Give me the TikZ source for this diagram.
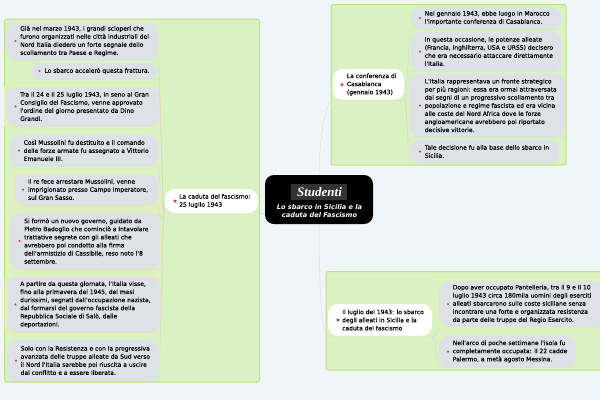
\documentclass[tikz,border=0pt]{standalone}
\usepackage{fontspec}
\setmainfont{DejaVu Sans}
\newfontfamily\labfont[FakeBold=0.25]{DejaVu Sans}
\newfontfamily\logofont{Liberation Serif}
\usetikzlibrary{shapes.geometric}
\definecolor{bgc}{HTML}{F0F5F9}
\definecolor{greenf}{HTML}{DAF2C2}
\definecolor{greend}{HTML}{B9E27E}
\definecolor{yellowd}{HTML}{F0EFA8}
\definecolor{grayf}{HTML}{DEE2E8}
\definecolor{linkc}{HTML}{CFD8DC}
\definecolor{redb}{HTML}{D02850}
\definecolor{logoc}{HTML}{333333}
\tikzset{
  panel/.style={draw=greend,fill=greenf,line width=1pt,rounded corners=2.5pt,inner sep=0pt},
  hiframe/.style={draw=yellowd,fill=none,line width=1pt,rounded corners=2pt,inner sep=0pt},
  graybox/.style={fill=grayf,rounded corners=10pt,inner sep=0pt},
  whitebox/.style={fill=white,rounded corners=10pt,inner sep=0pt},
  rootbox/.style={fill=black,rounded corners=9pt,inner sep=0pt},
  label/.style={anchor=west,align=left,inner sep=0pt,text=black,font=\labfont\fontsize{6}{8.1}\selectfont},
  dot/.style={star,star points=5,star point ratio=2.2,fill=redb,inner sep=0pt,minimum size=2.6pt},
  bigdot/.style={dot,minimum size=4pt},
  link/.style={draw=linkc,line width=.5pt,opacity=.75},
}
% name, x1, y1, x2, y2, style
\newcommand{\boxnode}[6]{%
  \pgfmathsetmacro{\bw}{#4-#2}\pgfmathsetmacro{\bh}{#5-#3}%
  \node[#6,minimum width=\bw pt,minimum height=\bh pt] (#1) at ({(#2+#4)/2},{(#3+#5)/2}) {};}
% name, x1,y1,x2,y2, bullet x, text x, text
\newcommand{\gitem}[8]{%
  \boxnode{#1}{#2}{#3}{#4}{#5}{graybox}
  \node[dot] (#1b) at (#6,{(#3+#5)/2}) {};
  \node[label] (#1t) at (#7,{(#3+#5)/2}) {#8};}
\newcommand{\witem}[8]{%
  \boxnode{#1}{#2}{#3}{#4}{#5}{whitebox}
  \node[bigdot] (#1b) at (#6,{(#3+#5)/2}) {};
  \node[label] (#1t) at (#7,{(#3+#5)/2}) {#8};}
\begin{document}
\begin{tikzpicture}[x=1pt,y=-1pt]
\useasboundingbox (0,0) rectangle (600,400);
\fill[bgc] (0,0) rectangle (600,400);

% panels
\boxnode{pl}{4.5}{19}{259.5}{382}{panel}
\boxnode{pt}{331}{4.5}{566}{165}{panel}
\boxnode{pb}{326}{271.5}{606}{370}{panel}

% highlight frames
\boxnode{f3}{4.5}{85}{161}{127}{hiframe}
\boxnode{f5}{12}{172}{161}{206}{hiframe}
\boxnode{f6}{8}{211}{161}{270}{hiframe}
\boxnode{f7}{5}{276}{161}{333}{hiframe}
\boxnode{f9}{437}{279}{606}{328}{hiframe}

% left branch
\gitem{a}{6}{22}{158}{60}{15.5}{20}{Già nel marzo 1943, i grandi scioperi che\\furono organizzati nelle città industriali del\\Nord Italia diedero un forte segnale dello\\scollamento tra Paese e Regime.}
\gitem{b}{31}{63}{158}{79}{39.5}{44.3}{Lo sbarco accelerò questa frattura.}
\gitem{c}{6}{87}{160}{126}{15.5}{20}{Tra il 24 e il 25 luglio 1943, in seno al Gran\\Consiglio del Fascismo, venne approvato\\l'ordine del giorno presentato da Dino\\Grandi.}
\gitem{d}{10}{135}{158}{166}{19}{23.5}{Così Mussolini fu destituito e il comando\\delle forze armate fu assegnato a Vittorio\\Emanuele III.}
\gitem{e}{14}{174}{158}{205}{23}{27.8}{Il re fece arrestare Mussolini, venne\\imprigionato presso Campo Imperatore,\\sul Gran Sasso.}
\gitem{f}{10}{213}{160}{269}{19.5}{24}{Si formò un nuovo governo, guidato da\\Pietro Badoglio che cominciò a intavolare\\trattative segrete con gli alleati che\\avrebbero poi condotto alla firma\\dell'armistizio di Cassibile, reso noto l'8\\settembre.}
\gitem{g}{7}{277}{160}{332}{15.5}{20}{A partire da questa giornata, l'Italia visse,\\fino alla primavera del 1945, dei mesi\\durissimi, segnati dall'occupazione nazista,\\dal formarsi del governo fascista della\\Repubblica Sociale di Salò, dalle\\deportazioni.}
\gitem{h}{7}{340}{158}{381}{16}{20.5}{Solo con la Resistenza e con la progressiva\\avanzata delle truppe alleate da Sud verso\\il Nord l'Italia sarebbe poi riuscita a uscire\\dal conflitto e a essere liberata.}
\witem{wl}{165}{189}{258}{213}{175}{179}{La caduta del fascismo:\\25 luglio 1943}

% upper right branch
\witem{wt}{333}{69}{404}{100}{342}{346.7}{La conferenza di\\Casablanca\\(gennaio 1943)}
\gitem{i}{411}{7}{561}{29}{420}{424.6}{Nel gennaio 1943, ebbe luogo in Marocco\\l'importante conferenza di Casablanca.}
\gitem{j}{411}{32}{562}{71}{420}{424.6}{In questa occasione, le potenze alleate\\(Francia, Inghilterra, USA e URSS) decisero\\che era necessario attaccare direttamente\\l'Italia.}
\gitem{k}{410}{74}{565}{137}{420}{424.6}{L'Italia rappresentava un fronte strategico\\per più ragioni: essa era ormai attraversata\\dai segni di un progressivo scollamento tra\\popolazione e regime fascista ed era vicina\\alle coste del Nord Africa dove le forze\\angloamericane avrebbero poi riportato\\decisive vittorie.}
\gitem{l}{410}{140}{559}{163}{420}{424.6}{Tale decisione fu alla base dello sbarco in\\Sicilia.}

% lower right branch
\witem{wb}{328}{304}{432}{336}{338}{342}{Il luglio del 1943: lo sbarco\\degli alleati in Sicilia e la\\caduta del fascismo}
\gitem{m}{439}{281}{606}{327}{448}{452.6}{Dopo aver occupato Pantelleria, tra il 9 e il 10\\luglio 1943 circa 180mila uomini degli eserciti\\alleati sbarcarono sulle coste siciliane senza\\incontrare una forte e organizzata resistenza\\da parte delle truppe del Regio Esercito.}
\gitem{n}{439}{336}{576}{367}{448}{452.6}{Nell'arco di poche settimane l'isola fu\\completamente occupata: il 22 cadde\\Palermo, a metà agosto Messina.}

% centre
\boxnode{root}{265}{175}{373}{224}{rootbox}
\boxnode{logo}{291}{184}{347}{200}{fill=logoc,inner sep=0pt}
\node[inner sep=0pt,text=white] (logot) at (319.5,192) {\logofont\bfseries\itshape\fontsize{13}{13}\selectfont Studenti};
\node[align=center,inner sep=0pt,text=white,font=\fontsize{6.6}{8.1}\selectfont\bfseries\itshape] (roott) at (319.5,211) {Lo sbarco in Sicilia e la\\caduta del Fascismo};

% connectors
\draw[link] (root.west |- wl.south) -- (wl.south east);
\draw[link] (root.north) .. controls +(0,-30) and +(-8,0) .. (wt.south west) -- (wt.south east);
\draw[link] (root.south) .. controls +(0,30) and +(-8,0) .. (wb.south west) -- (wb.south east);
\foreach \n in {a,b,c,d,e}
  \draw[link] (wl.south west) .. controls +(-3,0) and +(3,25) .. (\n.south east) -- (\n.south west);
\foreach \n in {f,g,h}
  \draw[link] (wl.south west) .. controls +(-3,0) and +(3,-25) .. (\n.south east) -- (\n.south west);
\foreach \n in {i,j,k}
  \draw[link] (wt.south east) .. controls +(3,0) and +(-3,15) .. (\n.south west) -- (\n.south east);
\draw[link] (wt.south east) .. controls +(3,0) and +(-3,-15) .. (l.south west) -- (l.south east);
\draw[link] (wb.south east) .. controls +(3,0) and +(-3,10) .. (m.south west);
\draw[link] (wb.south east) .. controls +(3,0) and +(-3,-10) .. (n.south west) -- (n.south east);
\end{tikzpicture}
\end{document}
